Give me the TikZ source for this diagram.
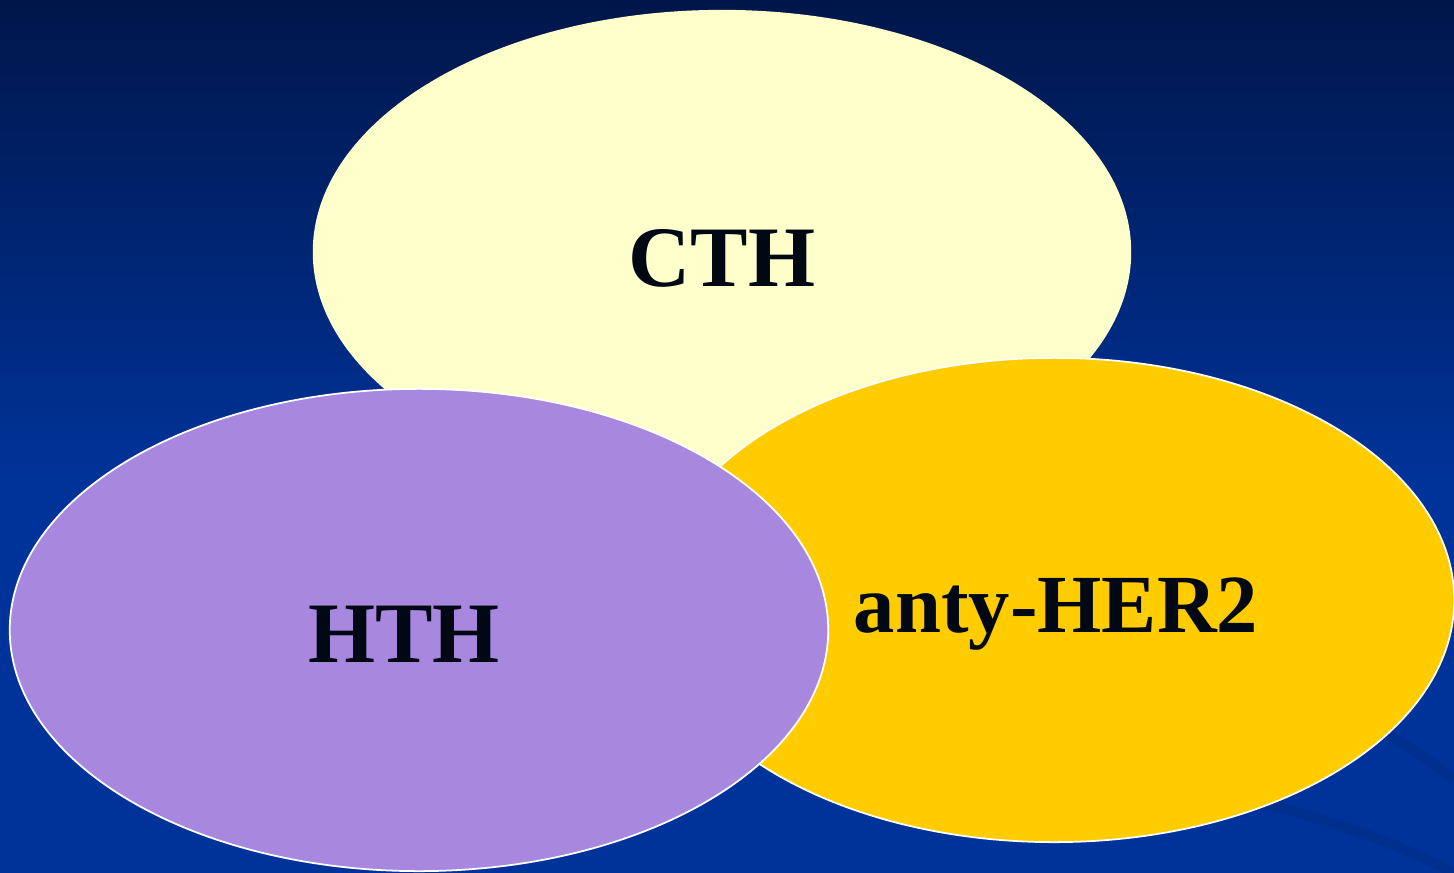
\documentclass[tikz,border=0pt]{standalone}
\usepackage{fontspec}
\setmainfont{Liberation Serif}
\usetikzlibrary{shapes.geometric}
\definecolor{bgtop}{HTML}{00164A}
\definecolor{bgbot}{HTML}{003399}
\definecolor{cthfill}{HTML}{FFFFCC}
\definecolor{herfill}{HTML}{FFCC00}
\definecolor{hthfill}{HTML}{A887DF}
\definecolor{txt}{HTML}{000814}
\tikzset{
  blob/.style={ellipse, inner sep=0pt, outer sep=0pt},
  rim/.style={draw=white, line width=0.5pt},
  lbl/.style={font=\bfseries\fontsize{24.5}{28}\selectfont, text=txt, anchor=base, inner sep=0pt},
  streak/.style={draw=black, opacity=0.07, line width=3pt}
}
\begin{document}
\begin{tikzpicture}[x=0.01cm,y=-0.01cm]
\useasboundingbox (0,0) rectangle (1454,873);
\shade[top color=bgtop, bottom color=bgbot] (0,0) rectangle (1454,480);
\fill[bgbot] (0,479) rectangle (1454,873);
\coordinate (s1a) at (1250,800);
\coordinate (s1b) at (1454,873);
\coordinate (s2a) at (1360,720);
\coordinate (s2b) at (1454,780);
\draw[streak] (s1a) .. controls (1330,820) and (1390,840) .. (s1b);
\draw[streak] (s2a) .. controls (1400,740) and (1430,760) .. (s2b);
\node[blob, fill=cthfill, minimum width=8.18cm, minimum height=4.84cm] (cth) at (722,252) {};
\node[blob, fill=herfill, rim, minimum width=8.0cm, minimum height=4.84cm] (her) at (1054,600) {};
\node[blob, fill=hthfill, rim, minimum width=8.18cm, minimum height=4.82cm] (hth) at (419,630) {};
\node[lbl] (cthl) at (722,287) {CTH};
\node[lbl, font=\bfseries\fontsize{23.5}{28}\selectfont] (herl) at (1056,632) {anty-HER2};
\node[lbl] (hthl) at (404,662) {HTH};
\end{tikzpicture}
\end{document}
